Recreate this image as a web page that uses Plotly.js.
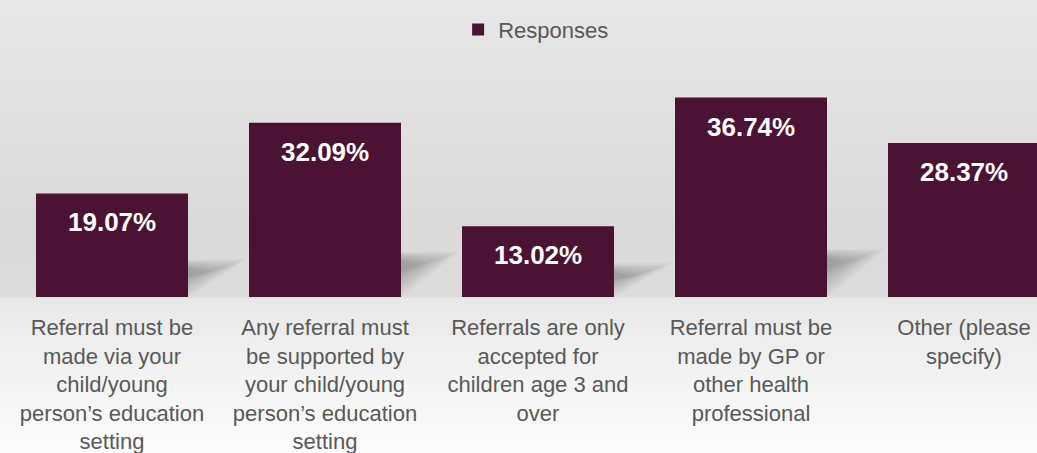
<!DOCTYPE html>
<html>
<head>
<meta charset="utf-8">
<script src="https://cdn.plot.ly/plotly-3.0.1.min.js"></script>
<style>
  html, body { margin: 0; padding: 0; }
  body {
    width: 1037px; height: 453px; overflow: hidden;
    background: linear-gradient(to bottom, #e7e7e7 0%, #dadada 50%, #dcdcdc 65.5%, #e8e8e8 66%, #f4f4f4 85%, #fcfcfc 100%);
  }
  #chart { width: 1037px; height: 453px; }
</style>
</head>
<body>
<div id="chart"></div>
<script>
// ---- data ----
const categories = [
  "Referral must be<br>made via your<br>child/young<br>person’s education<br>setting",
  "Any referral must<br>be supported by<br>your child/young<br>person’s education<br>setting",
  "Referrals are only<br>accepted for<br>children age 3 and<br>over",
  "Referral must be<br>made by GP or<br>other health<br>professional",
  "Other (please<br>specify)"
];
const responses = [19.07, 32.09, 13.02, 36.74, 28.37];
const valueLabels = ["19.07%", "32.09%", "13.02%", "36.74%", "28.37%"];
const seriesName = "Responses";

// ---- style ----
const barColor = "#4b1333";
const font = "Liberation Sans, Arial, sans-serif";

const trace = {
  type: "bar",
  name: seriesName,
  x: categories,
  y: responses,
  marker: { color: barColor, line: { width: 0 } },
  hoverinfo: "skip",
  showlegend: true
};

const annotations = categories.map((c, i) => ({
  x: c, y: responses[i], xref: "x", yref: "y",
  text: "<b>" + valueLabels[i] + "</b>",
  showarrow: false, yanchor: "middle", yshift: -29,
  font: { family: font, size: 26, color: "#ffffff" }
}));

// soft shadows at bottom-right of each bar
const shapes = [];
categories.forEach((c, i) => {
  const H = 24 + responses[i] * 0.6;
  const W = 58;
  for (let k = 0; k < 8; k++) {
    const s = 1 - k * 0.1;
    const top = H + 2 - k * 1.2;
    shapes.push({
      type: "path", layer: "below",
      xref: "x", yref: "y",
      xsizemode: "pixel", ysizemode: "pixel",
      xanchor: i, yanchor: 0,
      path: `M 76,${top} L ${76 + W * s},${top - k * 0.8} L 76,${top - top * s} Z`,
      fillcolor: "rgba(0,0,0,0.035)", line: { width: 0 }
    });
  }
});

const pxPerCat = 213, firstCenter = 112, figW = 1037;

const layout = {
  width: 1037, height: 453,
  margin: { l: 0, r: 0, t: 0, b: 156, pad: 0 },
  paper_bgcolor: "rgba(0,0,0,0)",
  plot_bgcolor: "rgba(0,0,0,0)",
  bargap: 1 - 152 / 213,
  xaxis: {
    type: "category",
    range: [-firstCenter / pxPerCat, (figW - firstCenter) / pxPerCat],
    showgrid: false, zeroline: false, showline: false, ticks: "",
    tickangle: 0, ticklabeloverflow: "allow", ticklabelstandoff: 15,
    tickfont: { family: font, size: 22, color: "#595959" },
    fixedrange: true
  },
  yaxis: {
    range: [0, 54.7],
    visible: false, showgrid: false, zeroline: false, fixedrange: true
  },
  showlegend: true,
  legend: {
    orientation: "h", x: 0.517, xanchor: "center", y: 0.9, yanchor: "middle",
    bgcolor: "rgba(0,0,0,0)",
    font: { family: font, size: 22, color: "#595959" }
  },
  annotations: annotations,
  shapes: shapes
};

Plotly.newPlot("chart", [trace], layout, { displayModeBar: false, staticPlot: true });
</script>
</body>
</html>
